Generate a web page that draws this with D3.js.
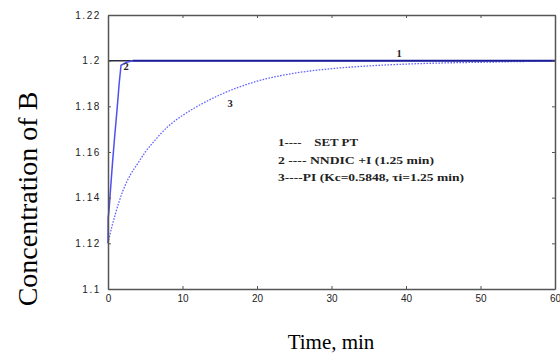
<!DOCTYPE html>
<html>
<head>
<meta charset="utf-8">
<script src="https://cdn.jsdelivr.net/npm/d3@7"></script>
<style>
  body { margin: 0; background: #fff; }
  svg { display: block; }
</style>
</head>
<body>
<svg id="chart" width="560" height="354"></svg>
<script>
// data
const xTicks = [0, 10, 20, 30, 40, 50, 60];
const yTicks = [1.1, 1.12, 1.14, 1.16, 1.18, 1.2, 1.22];

const setPtTime = [0, 60];
const setPtConc = [1.2, 1.2];

const nndicTime = [0, 0.02, 0.15, 0.3, 0.6, 0.9, 1.2, 1.5, 1.75, 2.5, 3.3, 60];
const nndicConc = [1.12, 1.131, 1.135, 1.142, 1.155, 1.167, 1.178, 1.19, 1.198, 1.1993, 1.2, 1.2];

const piTime = [0, 0.5, 1, 2, 3, 4, 5, 6, 8, 10, 12, 15, 20, 25, 30, 35, 40, 45, 50, 55, 60];
const piConc = [1.12, 1.127, 1.133, 1.143, 1.150, 1.155, 1.160, 1.164, 1.171, 1.176, 1.180,
                1.185, 1.191, 1.1945, 1.1965, 1.1977, 1.1985, 1.199, 1.1993, 1.1996, 1.1998];

const legendLines = [
  '1----    SET PT',
  '2 ---- NNDIC +I (1.25 min)',
  '3----PI (Kc=0.5848, \u03c4i=1.25 min)'
];

const margin = { left: 108, right: 5, top: 15, bottom: 65 };
const width = 560, height = 354;

const svg = d3.select('#chart');

const x = d3.scaleLinear().domain([0, 60]).range([margin.left, width - margin.right]);
const y = d3.scaleLinear().domain([1.1, 1.22]).range([height - margin.bottom, margin.top]);

const toPts = (ts, vs) => ts.map((t, i) => [t, vs[i]]);

const line = d3.line()
  .x(d => x(d[0]))
  .y(d => y(d[1]));

// curves
svg.append('path')
  .datum(toPts(piTime, piConc))
  .attr('d', line.curve(d3.curveMonotoneX))
  .attr('fill', 'none')
  .attr('stroke', '#6464ff')
  .attr('stroke-width', 1.3)
  .attr('stroke-dasharray', '1.6,1.4');

svg.append('path')
  .datum(toPts(setPtTime, setPtConc))
  .attr('d', line.curve(d3.curveLinear))
  .attr('fill', 'none')
  .attr('stroke', '#2a2a40')
  .attr('stroke-width', 1.5);

svg.append('path')
  .datum(toPts(nndicTime, nndicConc))
  .attr('d', line.curve(d3.curveLinear))
  .attr('fill', 'none')
  .attr('stroke', '#5050f0')
  .attr('stroke-width', 1.5);

// overdraw settled part darker, like the reference
svg.append('path')
  .datum(toPts([3.3, 60], [1.2, 1.2]))
  .attr('d', line)
  .attr('fill', 'none')
  .attr('stroke', '#1c1c96')
  .attr('stroke-width', 1.6);

// axes (ticks pointing inward, box all round)
const axisColor = '#555';
const gx = svg.append('g')
  .attr('transform', `translate(0,${height - margin.bottom})`)
  .call(d3.axisBottom(x).tickValues(xTicks).tickSizeInner(-3).tickSizeOuter(0).tickPadding(6));
const gxTop = svg.append('g')
  .attr('transform', `translate(0,${margin.top})`)
  .call(d3.axisTop(x).tickValues(xTicks).tickSizeInner(-3).tickSizeOuter(0).tickFormat(''));
const gy = svg.append('g')
  .attr('transform', `translate(${margin.left},0)`)
  .call(d3.axisLeft(y).tickValues(yTicks).tickSizeInner(-3).tickSizeOuter(0).tickPadding(7)
    .tickFormat(d => d3.format('.2f')(d).replace(/0$/, '').replace(/\.$/, '.0').replace('1.0', '1').replace(/\.0$/, '')));
const gyRight = svg.append('g')
  .attr('transform', `translate(${width - margin.right},0)`)
  .call(d3.axisRight(y).tickValues(yTicks).tickSizeInner(-3).tickSizeOuter(0).tickFormat(''));

[gx, gxTop, gy, gyRight].forEach(g => {
  g.select('.domain').attr('stroke', axisColor).attr('stroke-width', 1.5);
  g.selectAll('.tick line').attr('stroke', axisColor);
  g.selectAll('text')
    .attr('fill', '#222')
    .style('font-family', 'Liberation Sans, Arial, sans-serif')
    .style('font-size', '10px');
});
gy.selectAll('text').style('letter-spacing', '1.6px');
gy.selectAll('.tick').filter(d => d === 1.1 || d === 1.2).select('text').text(d => d === 1.1 ? '1.1' : '1.2');

// axis titles
svg.append('text')
  .attr('x', 331)
  .attr('y', 349)
  .attr('text-anchor', 'middle')
  .style('font-family', 'Liberation Serif, Times New Roman, serif')
  .style('font-size', '21px')
  .text('Time, min');

svg.append('text')
  .attr('transform', 'translate(37,199) rotate(-90)')
  .attr('text-anchor', 'middle')
  .style('font-family', 'Liberation Serif, Times New Roman, serif')
  .style('font-size', '28px')
  .text('Concentration of B');

// curve labels
const labelFont = 'Liberation Serif, Times New Roman, serif';
[['1', 399, 57], ['2', 126, 70], ['3', 230, 107]].forEach(([t, lx, ly]) => {
  svg.append('text')
    .attr('x', lx).attr('y', ly)
    .attr('text-anchor', 'middle')
    .style('font-family', labelFont)
    .style('font-weight', 'bold')
    .style('font-size', '10.5px')
    .attr('fill', '#222')
    .text(t);
});

// legend text
const legendWidths = [80, 156, 186];
const legendY = [146, 164, 181];
legendLines.forEach((s, i) => {
  svg.append('text')
    .attr('x', 278).attr('y', legendY[i])
    .attr('textLength', legendWidths[i])
    .attr('lengthAdjust', 'spacingAndGlyphs')
    .style('font-family', labelFont)
    .style('font-weight', 'bold')
    .style('font-size', '10.5px')
    .style('white-space', 'pre')
    .attr('fill', '#222')
    .text(s);
});
</script>
</body>
</html>
